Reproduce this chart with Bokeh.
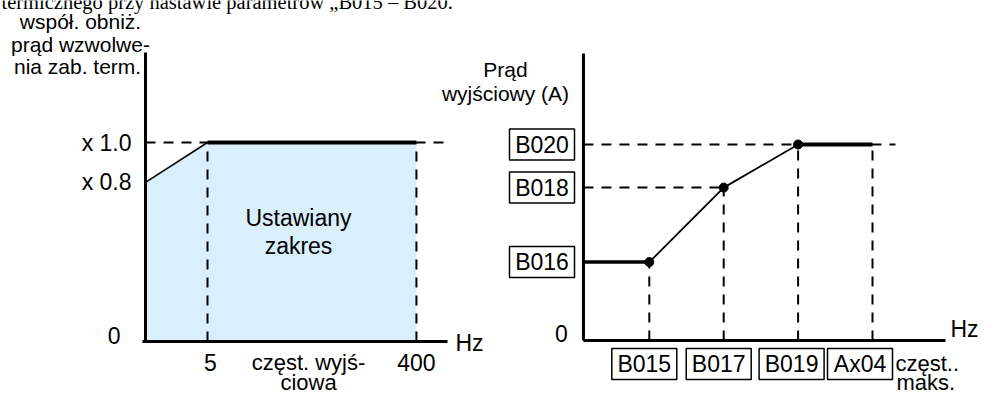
from bokeh.plotting import figure
from bokeh.models import Range1d, Label
from bokeh.embed import file_html
from bokeh.resources import INLINE

# ---------------- data ----------------
# left chart: thermal protection derating coefficient vs output frequency
left_freq = [0, 5, 400]                  # Hz
left_coef = [0.8, 1.0, 1.0]              # x rated current
left_y_ticks = [1.0, 0.8]
left_y_labels = ["x 1.0", "x 0.8"]
left_x_ticks = [5, 400]
left_x_labels = ["5", "400"]
left_title = ["współ. obniż.", "prąd wzwolwe-", "nia zab.  term."]
left_area_text = ["Ustawiany", "zakres"]
left_x_title = ["częst. wyjś-", "ciowa"]

# right chart: output current vs output frequency, set by parameters
right_freq_params = ["B015", "B017", "B019", "Ax04"]
right_level_params = ["B016", "B018", "B020"]
right_current = [0.40, 0.78, 1.0, 1.0]   # relative to B020 level
right_level_values = [0.40, 0.78, 1.0]
right_title = ["Prąd", "wyjściowy (A)"]
right_x_title = ["częst..", "maks."]

top_text = "termicznego przy nastawie parametrów \u201eB015 – B020."

# ---------------- layout (schematic, not to scale) ----------------
FONT = "Liberation Sans"
FS = "22px"
left_slot = {0: 0.0, 5: 1.0, 400: 4.37}      # schematic x positions of frequencies
right_slot = [1, 2, 3, 4]                    # schematic x positions of parameters
right_axis_x = 0.115
W, H = 988, 396

# pixel helpers (the frame fills the whole canvas)
LX0, LS, LY0, LYS = 145.0, 62.0, 341.0, 199.0
RX0, RS, RY0, RYS = 574.4, 74.4, 340.0, 196.0
def lx(px): return (px - LX0) / LS
def ly(py): return (LY0 - py) / LYS
def rx(px): return (px - RX0) / RS
def ry(py): return (RY0 - py) / RYS


p = figure(width=W, height=H, x_range=Range1d(lx(0), lx(W)), y_range=Range1d(ly(H), ly(0)),
           x_axis_location=None, y_axis_location=None, min_border=0,
           toolbar_location=None, output_backend="svg")
p.extra_x_ranges = {"r": Range1d(rx(0), rx(W))}
p.extra_y_ranges = {"r": Range1d(ry(H), ry(0))}
p.grid.visible = False
p.outline_line_color = None
p.background_fill_color = "white"
p.border_fill_color = "white"

R = dict(x_range_name="r", y_range_name="r")


def txt(x, y, s, align="center", size=FS, font=FONT, baseline="middle", right=False):
    kw = R if right else {}
    p.add_layout(Label(x=x, y=y, text=s, text_align=align, text_baseline=baseline,
                       text_font=font, text_font_size=size, text_color="black", **kw))


DASH = "10 8"

# ================= LEFT CHART =================
xs = [left_slot[f] for f in left_freq]
x_end = lx(447)
y_top = ly(52)

p.varea(x=xs, y1=[0, 0, 0], y2=left_coef, fill_color="#d9effc")
p.line([0, x_end], [left_coef[1], left_coef[1]], line_color="black", line_width=2, line_dash=DASH)
for f, c in zip(left_freq[1:], left_coef[1:]):
    p.line([left_slot[f], left_slot[f]], [0, c], line_color="black", line_width=2, line_dash=DASH)
p.line(xs[:2], left_coef[:2], line_color="black", line_width=1.6)
p.line(xs[1:], left_coef[1:], line_color="black", line_width=4)
p.line([0, 0], [0, y_top], line_color="black", line_width=3)
p.line([lx(142), x_end], [0, 0], line_color="black", line_width=3)

for t, s in zip(left_y_ticks, left_y_labels):
    txt(lx(131), t, s, align="right", size="23px")
txt(lx(120), ly(335), "0", align="right", size="23px")
for t, s in zip(left_x_ticks, left_x_labels):
    txt(left_slot[t] + (lx(210) - lx(207)) if t == 5 else left_slot[t], ly(362), s, size="23px")
txt(lx(455), ly(342), "Hz", align="left", size="23px")
txt(lx(308), ly(362), left_x_title[0])
txt(lx(308), ly(382), left_x_title[1])
for i, s in enumerate(left_area_text):
    txt(lx(298), ly(217 + 28 * i), s, size="23px")
for i, s in enumerate(left_title):
    txt(lx(80), ly(21 + 22.5 * i), s, size="21px")
txt(lx(1), ly(1), top_text, align="left", size="20.5px", font="Liberation Serif",
    baseline="alphabetic")

# ================= RIGHT CHART =================
rx_end = rx(945)
ry_top = ry(53)

p.line([right_axis_x, rx(895)], [right_current[2], right_current[2]],
       line_color="black", line_width=2, line_dash=DASH, **R)
p.line([right_axis_x, right_slot[1]], [right_current[1], right_current[1]],
       line_color="black", line_width=2, line_dash=DASH, **R)
for xv, yv in zip(right_slot, right_current):
    p.line([xv, xv], [0, yv], line_color="black", line_width=2, line_dash=DASH, **R)
p.line([right_axis_x, right_slot[0]], [right_current[0], right_current[0]],
       line_color="black", line_width=3.5, **R)
p.line(right_slot[:3], right_current[:3], line_color="black", line_width=1.8, **R)
p.line(right_slot[2:], right_current[2:], line_color="black", line_width=4, **R)
p.scatter(right_slot[:3], right_current[:3], size=9, color="black", **R)
p.line([right_axis_x, right_axis_x], [0, ry_top], line_color="black", line_width=3, **R)
p.line([right_axis_x, rx_end], [0, 0], line_color="black", line_width=3, **R)

# boxed level labels
box_x = rx(541.5)
p.rect([box_x] * 3, right_level_values, width=65, height=31, width_units="screen",
       height_units="screen", fill_color="white", line_color="black", line_width=1.5, **R)
for v, s in zip(right_level_values, right_level_params):
    txt(box_x, v, s, size="23px", right=True)
# boxed frequency labels (shifted left of their dashed lines)
box_dx = [rx(644) - rx(649), rx(716) - rx(721), rx(789.5) - rx(796), rx(859.5) - rx(872)]
bx = [s + d for s, d in zip(right_slot, box_dx)]
p.rect(bx, [ry(363.5)] * 4, width=65, height=31, width_units="screen",
       height_units="screen", fill_color="white", line_color="black", line_width=1.5, **R)
for xv, s in zip(bx, right_freq_params):
    txt(xv, ry(363.5), s, size="23px", right=True)

txt(rx(561), ry(333), "0", size="23px", right=True)
txt(rx(950), ry(328), "Hz", align="left", size="23px", right=True)
txt(rx(895), ry(363), right_x_title[0], align="left", right=True)
txt(rx(896), ry(382), right_x_title[1], align="left", right=True)
for i, s in enumerate(right_title):
    txt(rx(505), ry(69 + 24 * i), s, size="21px", right=True)

open("out.html", "w").write(file_html(p, INLINE))
